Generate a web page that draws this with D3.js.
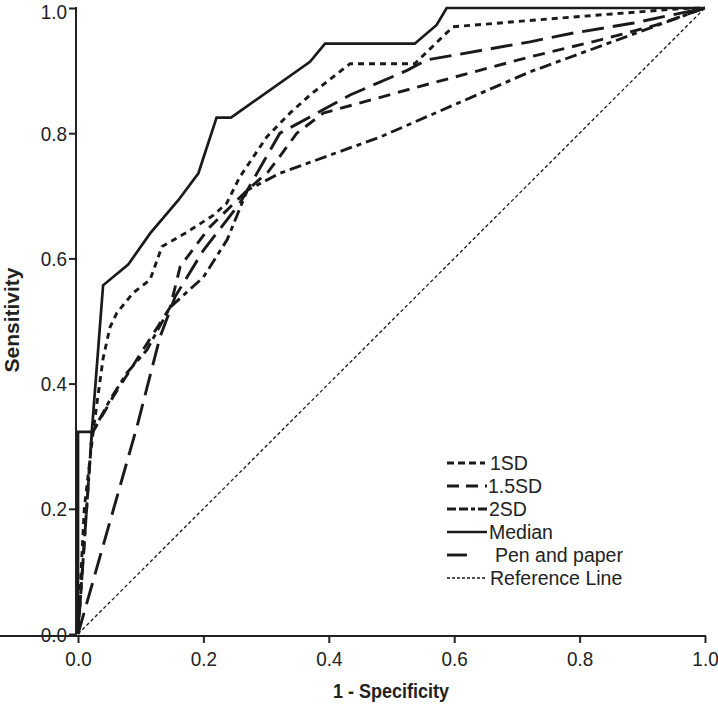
<!DOCTYPE html>
<html><head><meta charset="utf-8">
<script src="https://cdn.jsdelivr.net/npm/d3@7"></script>
<style>body{margin:0;background:#fff}</style>
</head><body>
<svg id="c" width="718" height="710"></svg>
<script>
const xTicks = [0, 0.2, 0.4, 0.6, 0.8, 1.0];
const yTicks = [0, 0.2, 0.4, 0.6, 0.8, 1.0];
const seriesNames = ["1SD", "1.5SD", "2SD", "Median", "Pen and paper", "Reference Line"];

const sd1 = [[0,0],[0.01,0.2],[0.025,0.33],[0.04,0.44],[0.051,0.49],[0.062,0.513],[0.088,0.545],[0.115,0.566],[0.134,0.619],[0.174,0.642],[0.216,0.669],[0.237,0.688],[0.258,0.73],[0.301,0.794],[0.338,0.832],[0.37,0.861],[0.434,0.911],[0.537,0.911],[0.598,0.97],[0.72,0.98],[0.96,0.999],[1,1]];
const sd15 = [[0,0],[0.022,0.32],[0.056,0.379],[0.147,0.522],[0.163,0.587],[0.21,0.65],[0.27,0.709],[0.303,0.738],[0.322,0.763],[0.349,0.8],[0.391,0.832],[0.535,0.872],[0.721,0.922],[0.833,0.949],[0.923,0.973],[1,1]];
const sd2 = [[0,0],[0.022,0.32],[0.051,0.374],[0.078,0.417],[0.11,0.454],[0.147,0.522],[0.2,0.57],[0.238,0.63],[0.27,0.709],[0.322,0.736],[0.482,0.794],[0.721,0.898],[1,1]];
const median = [[0,0],[0,0.323],[0.022,0.323],[0.04,0.557],[0.08,0.59],[0.115,0.64],[0.16,0.693],[0.192,0.736],[0.221,0.825],[0.244,0.825],[0.37,0.914],[0.394,0.943],[0.537,0.943],[0.572,0.973],[0.588,1],[1,1]];
const pen = [[0,0],[0.094,0.331],[0.131,0.475],[0.155,0.539],[0.2,0.613],[0.258,0.688],[0.322,0.8],[0.37,0.826],[0.434,0.861],[0.524,0.9],[0.556,0.917],[0.721,0.946],[0.79,0.96],[0.886,0.976],[1,1]];
const refLine = [[0,0],[1,1]];

const svg = d3.select("#c");
const x = d3.scaleLinear().domain([0,1]).range([78,705]);
const y = d3.scaleLinear().domain([0,1]).range([634,8]);
const font = "'Liberation Sans', Arial, sans-serif";

// axes
const xa = svg.append("g").attr("transform","translate(0,636)")
  .call(d3.axisBottom(x).tickValues(xTicks).tickFormat(d3.format(".1f")).tickSize(7).tickSizeOuter(0));
const ya = svg.append("g").attr("transform","translate(76,0)")
  .call(d3.axisLeft(y).tickValues(yTicks).tickFormat(d3.format(".1f")).tickSize(7).tickSizeOuter(0));
[xa, ya].forEach(a=>{
  a.select(".domain").attr("stroke","#222").attr("stroke-width",2);
  a.selectAll(".tick line").attr("stroke","#222").attr("stroke-width",2);
  a.selectAll(".tick text").attr("font-family",font).attr("font-size",21).attr("fill","#222");
});
xa.selectAll(".tick text").attr("y",15).attr("dy","0.71em").attr("transform","scale(0.9,1)");
ya.selectAll(".tick text").attr("x",-9/0.9).attr("dy","0.34em").attr("transform","scale(0.9,1)");
ya.selectAll(".tick").filter(d=>d===1).select("text").attr("dy","0.52em");
xa.select(".domain").attr("d","M-2,0H"+(705+1));
ya.select(".domain").attr("d","M0,7V"+(636+1));

const line = d3.line().x(d=>x(d[0])).y(d=>y(d[1]));
const styles = [
  {data: sd1, dash:"6,5", w:2.9},
  {data: sd15, dash:"12,8", w:2.9},
  {data: sd2, dash:"12,5,5,5", w:2.9},
  {data: median, dash:null, w:2.7},
  {data: pen, dash:"22,9", w:2.9},
  {data: refLine, dash:"3.5,2.5", w:1.3}
];
styles.forEach(s=>{
  svg.append("path").datum(s.data).attr("d",line).attr("fill","none")
    .attr("stroke","#1a1a1a").attr("stroke-width",s.w)
    .attr("stroke-dasharray",s.dash).attr("stroke-linejoin","miter");
});

// legend
const legY = [463,486,509,532,555,578];
const legX2 = [485,487,487,487,478,485], legTx = [490,488,489,489,495,490];
const legDash = ["7,4","12,7","9,3,9,3,4,3",null,"20,30","3,2"];
seriesNames.forEach((n,i)=>{
  svg.append("line").attr("x1",447).attr("x2",legX2[i]).attr("y1",legY[i]).attr("y2",legY[i])
    .attr("stroke","#1a1a1a").attr("stroke-width",styles[i].w)
    .attr("stroke-dasharray",legDash[i]);
  svg.append("text").attr("x",legTx[i]).attr("y",legY[i]+7).text(n)
    .attr("font-family",font).attr("font-size",19.5).attr("fill","#222");
});

// titles
svg.append("text").attr("transform","translate(391,698) scale(0.9,1)").attr("text-anchor","middle")
  .attr("font-family",font).attr("font-weight","bold").attr("font-size",20).attr("fill","#222")
  .text("1 - Specificity");
svg.append("text").attr("transform","translate(19,320) rotate(-90)").attr("text-anchor","middle")
  .attr("font-family",font).attr("font-weight","bold").attr("font-size",21).attr("fill","#222")
  .text("Sensitivity");
</script>
</body></html>
